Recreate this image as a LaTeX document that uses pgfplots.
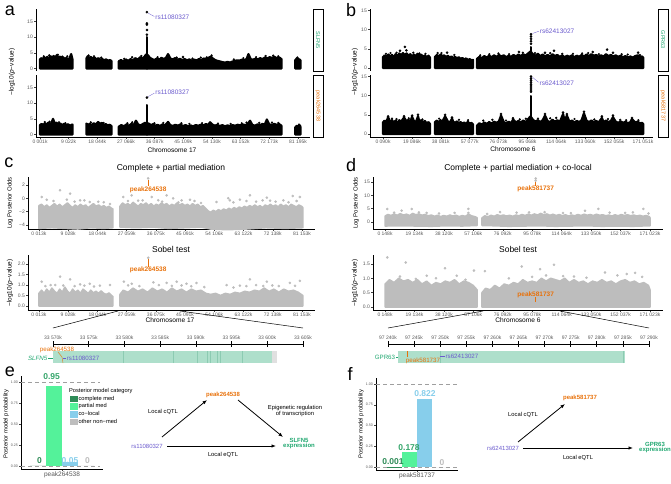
\documentclass[border=0pt]{standalone}
\usepackage{fontspec}
\setmainfont{Liberation Sans}
\usepackage{pgfplots}
\pgfplotsset{compat=1.18}
\usetikzlibrary{arrows.meta}

\definecolor{orng}{HTML}{E8710A}
\definecolor{purp}{HTML}{6A5ACD}
\definecolor{grn}{HTML}{20A770}
\definecolor{cmed}{HTML}{2E8B57}
\definecolor{pmed}{HTML}{54F29A}
\definecolor{pmedtxt}{HTML}{34A56A}
\definecolor{cloc}{HTML}{87CEEB}
\definecolor{oth}{HTML}{BEBEBE}
\definecolor{track}{HTML}{AEDFCB}
\definecolor{trackd}{HTML}{8CCBB2}
\definecolor{cloud}{HTML}{BDBDBD}

\newcommand{\fz}[1]{\fontsize{#1}{#1}\selectfont}

\pgfplotsset{
  gg/.style={scale only axis, clip=false, anchor=south west,
    axis line style={line width=0.5pt,-},
    tick align=outside, major tick length=1.8pt,
    every tick/.style={line width=0.4pt, black!75},
    tick label style={font=\fz{5}, text=black!65},
    xticklabel style={inner sep=1.2pt},
    yticklabel style={inner sep=1.2pt},
    /pgf/number format/assume math mode=true},
  blk/.style={fill=black, draw=black, line width=2.2pt, line join=round},
  gry/.style={fill=cloud, draw=cloud, line width=1.6pt, line join=round},
  dots/.style={only marks, mark=*, mark size=1.1pt},
  sqleg/.style={legend image code/.code={\fill[##1] (0pt,-3.3pt) rectangle (7.5pt,3.3pt);}},
}

\begin{document}
\begin{tikzpicture}
\path[use as bounding box] (0pt,0pt) rectangle (671pt,483pt);

% ---------------- panel a ----------------
\node[font=\fz{18}] at (10pt,472pt) {a};
\begin{axis}[gg, at={(36pt,412pt)}, width=274pt, height=62pt,
  xmin=-1.26, xmax=84.97, ymin=-0.8, ymax=19,
  axis y line*=left, axis x line=none, ytick={0,5,10,15}, xtick=\empty]
\addplot[blk] coordinates {(0,2.9)(0.4,3.3)(0.9,3.0)(1.3,3.6)(1.8,3.2)(2.3,3.7)(2.8,3.1)(3.3,3.9)(3.8,3.4)(4.3,4.0)(4.8,3.3)(5.3,4.3)(5.8,3.5)(6.3,3.8)(6.8,3.2)(7.3,3.6)(7.8,3.0)(8.3,3.4)(8.8,2.8)(9.3,3.3)(9.8,4.6)(10.2,3.0)} \closedcycle;
\addplot[blk] coordinates {(14.6,3.2)(15.0,3.9)(15.5,3.4)(16.0,3.7)(16.6,3.1)(17.2,3.5)(17.8,2.9)(18.4,3.3)(19.0,2.8)(19.6,3.0)(20.2,2.6)(20.8,2.9)(21.4,2.5)(22.0,2.7)(22.5,2.4)} \closedcycle;
\addplot[blk] coordinates {(24.8,2.3)(25.5,2.7)(26.2,2.2)(27.0,2.9)(27.8,2.4)(28.5,3.0)(29.2,2.6)(30.0,3.3)(30.8,2.8)(31.5,3.6)(32.2,3.1)(33.0,3.9)(33.4,4.5)(34.0,4.2)(34.6,3.4)(35.3,3.0)(36.0,2.7)(36.8,3.2)(37.5,2.8)(38.2,3.4)(39.0,3.0)(39.7,3.5)(40.3,4.6)(41.0,3.2)(41.8,2.9)(42.5,3.3)(43.3,2.8)(44.0,3.1)(44.8,2.7)(45.5,3.0)(46.3,2.6)(47.0,2.9)(47.8,2.5)(48.5,2.8)(49.3,2.6)(50.0,3.0)(50.8,2.7)(51.5,3.2)(52.3,2.9)(53.0,3.4)(53.8,3.8)(54.5,3.1)(55.3,2.6)(56.0,2.4)(56.8,2.2)(57.5,2.0)(58.3,1.9)(59.0,2.1)(59.8,1.9)(60.5,2.2)(61.3,2.4)(62.0,2.6)(62.8,2.5)(63.5,2.8)(64.3,2.7)(65.0,3.0)(65.6,4.6)(66.3,3.0)(67.0,2.8)(67.8,3.1)(68.5,2.9)(69.3,3.3)(70.0,3.0)(70.8,3.5)(71.5,3.2)(72.3,3.6)(73.0,3.4)(73.8,3.7)(74.5,3.3)(75.3,3.5)(76.0,3.0)} \closedcycle;
\addplot[blk] coordinates {(80.3,2.6)(80.8,3.2)(81.3,3.0)(81.8,2.8)(82.0,2.5)} \closedcycle;
\addplot[blk] coordinates {(33.55,10.0)(33.75,10.0)} \closedcycle;
\addplot[dots, black] coordinates {(33.65,10.8)(33.65,12.3)(33.65,14.0)(33.65,14.4)(33.65,18.0)(45.0,3.7)(52.5,3.5)};
\addplot[dots, black, mark size=0.9pt] coordinates {(1.2,3.9)(2.9,4.2)(5.6,4.4)(7.0,3.8)(8.6,3.9)(15.3,4.2)(17.0,3.9)(19.3,3.5)(26.5,3.1)(29.0,3.6)(31.9,4.0)(37.0,3.6)(43.0,3.5)(48.0,3.2)(50.6,3.5)(54.0,4.2)(61.0,2.9)(64.0,3.3)(68.0,3.6)(71.0,4.0)(73.4,4.1)(75.0,3.9)(81.0,3.5)};
\draw[purp, line width=0.3pt] (axis cs:34.0,17.7) -- (axis cs:36.0,16.6);
\node[purp, anchor=west, font=\fz{6.5}, inner sep=0.5pt] at (axis cs:36.1,16.3) {rs11080327};
\end{axis}

\begin{axis}[gg, at={(36pt,346pt)}, width=274pt, height=62pt,
  xmin=-1.26, xmax=84.97, ymin=-0.8, ymax=19,
  axis y line*=left, axis x line*=bottom, ytick={0,5,10,15},
  xtick={0.001,9.023,18.044,27.066,36.087,45.109,54.130,63.152,72.173,81.195},
  xticklabels={0 001k,9 022k,18 044k,27 066k,36 087k,45 109k,54 130k,63 152k,72 173k,81 195k}]
\addplot[blk] coordinates {(0,3.0)(0.5,3.4)(1.0,2.9)(1.5,3.6)(2.0,3.2)(2.6,3.8)(3.2,3.3)(3.7,3.9)(4.1,5.0)(4.6,3.5)(5.2,3.8)(5.8,3.1)(6.4,3.5)(7.0,3.0)(7.6,3.4)(8.2,2.9)(8.8,3.3)(9.4,2.8)(10.2,3.2)} \closedcycle;
\addplot[blk] coordinates {(14.6,3.5)(15.1,3.1)(15.7,3.4)(16.3,3.0)(16.9,3.6)(17.5,3.2)(18.3,4.0)(18.9,3.4)(19.5,3.7)(20.1,3.1)(20.7,3.3)(21.3,2.9)(21.9,3.1)(22.5,2.7)} \closedcycle;
\addplot[blk] coordinates {(24.8,2.5)(25.6,3.0)(26.4,2.6)(27.2,3.2)(28.0,2.8)(28.8,3.4)(29.5,3.0)(30.2,4.4)(30.9,3.2)(31.6,2.9)(32.3,3.3)(33.0,3.7)(34.2,3.5)(34.9,3.0)(35.6,3.3)(36.3,2.8)(37.0,3.1)(37.8,2.7)(38.5,3.2)(39.3,2.9)(40.3,4.0)(41.0,3.0)(41.8,2.7)(42.6,3.1)(43.4,2.8)(44.2,3.2)(45.0,2.7)(45.8,3.0)(46.6,2.6)(47.4,2.9)(48.2,2.6)(49.0,3.0)(49.8,2.8)(50.6,3.1)(51.4,2.9)(52.2,3.3)(53.0,3.1)(53.5,3.9)(54.2,3.2)(55.0,2.8)(55.8,3.1)(56.6,2.7)(57.4,3.0)(58.2,2.6)(59.0,2.9)(59.8,2.7)(60.6,3.0)(61.4,2.8)(62.2,3.1)(63.0,2.9)(63.8,3.2)(64.6,3.0)(65.3,3.3)(66.1,4.4)(66.8,3.1)(67.6,2.8)(68.4,3.2)(69.2,2.9)(70.0,3.4)(70.7,3.1)(71.4,4.8)(72.1,3.3)(72.9,3.0)(73.7,3.4)(74.5,3.1)(75.3,3.3)(76.0,2.8)} \closedcycle;
\addplot[blk] coordinates {(80.3,2.2)(80.8,2.8)(81.3,2.5)(81.8,2.9)(82.0,2.3)} \closedcycle;
\addplot[blk] coordinates {(33.55,9.5)(33.75,9.5)} \closedcycle;
\addplot[dots, black] coordinates {(33.65,11.8)};
\addplot[dots, black, mark size=0.9pt] coordinates {(1.5,4.0)(3.0,4.1)(6.0,3.9)(8.0,3.6)(16.0,3.9)(20.0,3.7)(27.5,3.6)(29.0,3.9)(36.0,3.6)(38.8,3.7)(44.5,3.6)(47.0,3.4)(51.0,3.6)(56.0,3.5)(60.0,3.4)(63.5,3.6)(65.0,3.8)(69.0,3.7)(73.0,3.8)(75.0,3.7)(81.5,3.2)};
\draw[purp, line width=0.3pt] (axis cs:34.0,12.1) -- (axis cs:36.0,13.2);
\node[purp, anchor=west, font=\fz{6.5}, inner sep=0.5pt] at (axis cs:36.1,13.4) {rs11080327};
\end{axis}
\draw[line width=0.6pt, fill=white] (313pt,412pt) rectangle (323pt,474pt);
\node[rotate=-90, text=grn, font=\fz{5.5}] at (318pt,443pt) {SLFN5};
\draw[line width=0.6pt, fill=white] (313pt,346pt) rectangle (323pt,408pt);
\node[rotate=-90, text=orng, font=\fz{5.5}] at (318pt,377pt) {peak264538};
\node[rotate=90, font=\fz{6.5}] at (12pt,411pt) {−log10(\textit{p}−value)};
\node[font=\fz{6.6}] at (172pt,333pt) {Chromosome 17};

% ---------------- panel b ----------------
\node[font=\fz{18}] at (351pt,473pt) {b};
\begin{axis}[gg, at={(370pt,412pt)}, width=283pt, height=62pt,
  xmin=-8.46, xmax=177.62, ymin=-0.79, ymax=15.4,
  axis y line*=left, axis x line=none, ytick={0,5,10,15}, xtick=\empty]
\addplot[blk] coordinates {(0,2.8)(1.2,3.3)(2.4,2.9)(3.6,3.5)(4.8,3.0)(6.0,3.4)(7.2,2.8)(8.4,3.6)(9.6,3.1)(10.8,3.8)(12.0,3.3)(13.2,3.9)(14.4,3.4)(15.6,3.8)(16.8,3.2)(18.0,3.6)(19.2,3.0)(20.4,3.5)(21.6,3.1)(22.8,3.7)(24.0,3.2)(25.2,3.5)(26.4,2.9)(27.6,3.3)(28.8,2.8)(30.0,3.2)(31.0,2.7)} \closedcycle;
\addplot[blk] coordinates {(34.3,2.9)(35.5,3.4)(36.7,3.0)(37.9,3.5)(39.1,3.1)(40.3,3.3)(41.5,2.8)(42.7,3.2)(43.9,2.7)(45.1,3.0)(46.3,2.6)(47.5,2.9)(48.7,2.5)(49.9,2.8)(51.1,2.4)(52.3,2.6)(53.5,2.2)(54.7,2.5)(55.9,2.1)(57.1,2.3)(58.3,2.0)(59.3,2.1)} \closedcycle;
\addplot[blk] coordinates {(61.9,2.4)(63.5,2.9)(65.1,2.6)(66.7,3.1)(68.3,2.7)(69.9,3.2)(71.5,2.8)(73.1,3.3)(74.7,2.9)(76.3,3.4)(77.9,3.0)(79.5,3.3)(81.1,2.8)(82.7,3.2)(84.3,2.9)(85.9,3.4)(87.5,3.0)(89.1,3.5)(90.7,3.1)(92.3,3.6)(93.9,3.2)(95.5,3.8)(97.1,4.3)(98.7,3.6)(100.3,3.2)(101.9,3.7)(103.5,3.1)(105.1,3.5)(106.7,3.0)(108.3,3.4)(109.9,3.0)(111.5,3.6)(113.1,3.1)(114.7,3.4)(116.3,2.9)(117.9,3.3)(119.5,2.8)(121.1,3.2)(122.7,2.9)(124.3,3.3)(125.9,2.8)(127.5,3.2)(129.1,2.9)(130.7,3.4)(132.3,3.0)(133.9,3.5)(135.5,3.1)(137.1,3.6)(138.7,3.2)(140.3,3.4)(141.9,2.9)(143.5,3.3)(145.1,3.0)(146.7,3.6)(148.3,3.1)(149.9,3.4)(151.5,3.0)(153.1,3.3)(154.7,2.9)(156.3,3.2)(157.9,2.8)(159.5,3.1)(161.1,2.7)(162.7,3.0)(164.3,2.7)(165.9,3.1)(167.5,3.3)(169.1,2.9)(170.5,3.0)(171.3,2.6)} \closedcycle;
\addplot[blk] coordinates {(97.2,5.5)(97.6,5.5)} \closedcycle;
\addplot[dots, black] coordinates {(97.4,6.3)(97.4,7.0)(97.4,7.6)(97.4,8.2)(97.4,8.8)(11.3,4.5)(14.5,5.5)(15.5,4.6)(42.2,4.0)(89.5,4.2)(106.6,4.0)(112.5,4.5)(138,4.2)(147.4,4.8)(151.3,4.0)(167.8,4.0)};
\addplot[dots, black, mark size=0.9pt] coordinates {(2.0,3.7)(5.0,3.9)(9.0,4.0)(20.0,4.0)(24.0,3.8)(28.0,3.7)(36.0,3.9)(38.5,3.9)(47.0,3.4)(64.0,3.3)(70.0,3.6)(76.0,3.8)(83.0,3.6)(92.0,4.0)(100.0,3.9)(110.0,3.9)(118.0,3.7)(125.0,3.7)(131.0,3.8)(135.0,3.9)(142.0,3.6)(157.0,3.6)(161.0,3.5)(169.0,3.4)};
\draw[purp, line width=0.3pt] (axis cs:98.4,9.0) -- (axis cs:102.6,9.6);
\node[purp, anchor=west, font=\fz{6.5}, inner sep=0.5pt] at (axis cs:102.8,9.7) {rs62413027};
\end{axis}

\begin{axis}[gg, at={(370pt,346pt)}, width=283pt, height=62pt,
  xmin=-8.46, xmax=177.62, ymin=-0.79, ymax=15.4,
  axis y line*=left, axis x line*=bottom, ytick={0,5,10,15},
  xtick={0.090,19.086,38.081,57.077,76.073,95.068,114.064,133.060,152.055,171.051},
  xticklabels={0 090k,19 086k,38 081k,57 077k,76 073k,95 068k,114 064k,133 060k,152 055k,171 051k}]
\addplot[blk] coordinates {(0,3.0)(1.2,3.5)(2.4,3.1)(3.4,4.4)(4.8,3.2)(6.0,3.6)(7.2,3.0)(8.4,3.5)(9.6,2.9)(10.8,3.6)(12.0,3.2)(13.9,4.3)(15.6,3.3)(16.8,3.7)(18.0,3.1)(19.2,4.5)(20.4,3.4)(21.6,3.0)(23.1,4.6)(24.0,3.3)(25.2,3.6)(26.4,3.0)(27.6,3.4)(28.8,2.8)(30.0,3.1)(31.0,2.6)} \closedcycle;
\addplot[blk] coordinates {(34.3,3.1)(35.5,3.5)(36.7,3.0)(37.9,3.6)(39.1,3.2)(40.9,4.6)(42.7,3.3)(43.9,2.9)(45.5,4.0)(46.3,3.2)(47.5,2.9)(48.7,3.3)(49.9,2.8)(51.1,3.1)(52.3,2.7)(53.5,3.0)(54.7,2.6)(55.9,3.2)(57.1,2.7)(58.3,2.9)(59.3,2.5)} \closedcycle;
\addplot[blk] coordinates {(61.9,2.2)(63.5,2.8)(65.1,2.4)(66.7,3.0)(68.3,2.6)(69.9,3.1)(71.5,2.7)(73.1,3.2)(74.7,2.9)(76.3,3.3)(77.7,4.8)(79.5,3.1)(81.1,2.7)(82.7,3.2)(84.3,2.8)(85.6,3.8)(87.5,3.0)(89.1,3.4)(90.7,3.0)(92.3,3.5)(93.9,3.1)(95.5,3.9)(97.1,4.6)(98.7,3.7)(100.3,3.2)(101.9,3.6)(103.5,3.1)(105.1,3.6)(106.6,4.8)(108.3,3.4)(109.9,3.1)(111.5,3.7)(113.1,3.2)(114.7,3.6)(116.3,3.1)(118.5,5.2)(119.5,3.4)(121.0,4.8)(122.7,3.2)(124.3,3.5)(125.9,3.0)(127.5,3.4)(129.1,3.1)(130.7,3.6)(132.2,5.4)(133.9,3.5)(135.5,3.1)(137.1,3.5)(138.7,3.1)(140.3,3.4)(141.9,3.0)(144.0,4.2)(145.1,3.1)(146.7,3.5)(148.3,3.1)(149.9,3.4)(151.3,4.4)(153.1,3.2)(154.7,2.9)(156.3,3.3)(157.9,2.9)(159.5,3.2)(161.1,2.8)(162.7,3.1)(163.8,3.9)(165.9,3.0)(167.5,3.2)(169.1,2.8)(170.5,2.9)(171.3,2.5)} \closedcycle;
\addplot[blk] coordinates {(97.2,10.0)(97.6,10.0)} \closedcycle;
\addplot[dots, black] coordinates {(97.4,11.0)(97.4,11.5)(97.4,12.0)(97.4,12.5)(97.4,13.0)(97.4,13.5)(97.4,14.0)(97.4,14.5)(97.4,15.0)(3.4,4.6)(13.9,4.6)(19.2,4.8)(23.1,5.0)(40.9,5.0)(45.5,4.3)(77.7,5.2)(85.6,4.1)(106.6,5.2)(118.5,5.6)(121,5.2)(132.2,5.8)(144,4.6)(151.3,4.8)(163.8,4.2)};
\addplot[dots, black, mark size=0.9pt] coordinates {(6.0,4.0)(9.0,3.9)(17.0,4.1)(26.0,3.8)(37.0,4.0)(50.0,3.7)(56.0,3.6)(66.0,3.5)(72.0,3.7)(81.0,3.5)(90.0,3.8)(94.0,4.0)(102.0,4.0)(110.0,4.1)(114.0,4.2)(126.0,3.9)(139.0,3.8)(148.0,3.9)(156.0,3.7)(160.0,3.6)(168.0,3.6)};
\draw[purp, line width=0.3pt] (axis cs:98.4,14.8) -- (axis cs:102.4,13.5);
\node[purp, anchor=west, font=\fz{6.5}, inner sep=0.5pt] at (axis cs:102.6,13.2) {rs62413027};
\end{axis}
\draw[line width=0.6pt, fill=white] (658pt,412pt) rectangle (668pt,474pt);
\node[rotate=-90, text=grn, font=\fz{5.5}] at (663pt,443pt) {GPR63};
\draw[line width=0.6pt, fill=white] (658pt,346pt) rectangle (668pt,408pt);
\node[rotate=-90, text=orng, font=\fz{5.5}] at (663pt,377pt) {peak581737};
\node[rotate=90, font=\fz{6.5}] at (355pt,411pt) {−log10(\textit{p}−value)};
\node[font=\fz{6.6}] at (513pt,334pt) {Chromosome 6};

% ---------------- panel c ----------------
\node[font=\fz{18}] at (9pt,320pt) {c};
\node[font=\fz{8.5}] at (171pt,315pt) {Complete + partial mediation};
\begin{axis}[gg, at={(28pt,254pt)}, width=287pt, height=52pt,
  xmin=-3.38, xmax=85.17, ymin=-4.6, ymax=3.2,
  axis y line*=left, axis x line*=bottom,
  ytick={-4,-2,0,2}, yticklabels={−4,−2,0,2},
  xtick={0.013,9.028,18.044,27.059,36.075,45.091,54.106,63.122,72.138,81.153},
  xticklabels={0 013k,9 028k,18 044k,27 059k,36 075k,45 091k,54 106k,63 122k,72 138k,81 153k}]
\addplot[gry] coordinates {(0.0,-1.1)(0.8,-0.9)(1.6,-1.3)(2.4,-1.0)(3.2,-1.4)(4.0,-1.1)(4.8,-0.8)(5.6,-1.2)(6.4,-0.9)(7.2,-1.3)(8.0,-1.0)(8.8,-0.7)(9.6,-1.1)(10.4,-1.4)(11.2,-1.0)(12.0,-1.3)(12.8,-0.9)(13.6,-1.2)(14.4,-1.0)(15.2,-1.4)(16.0,-1.1)(16.8,-0.8)(17.6,-1.2)(18.4,-1.0)(19.2,-1.3)(20.0,-1.1)(20.8,-1.4)(21.6,-1.2)(22.4,-1.5)(22.8,-1.6)(22.8,-4.4)(20,-4.5)(16,-4.4)(12,-4.6)(8,-4.5)(4,-4.4)(0,-4.5)} -- cycle;
\addplot[gry] coordinates {(25.0,-1.2)(25.8,-0.7)(26.6,-1.0)(27.4,-0.8)(28.2,-1.1)(29.0,-0.6)(29.8,-0.9)(30.6,-1.2)(31.4,-0.8)(32.2,-1.0)(33.0,-0.7)(33.8,-1.1)(34.6,-0.8)(35.4,-1.2)(36.2,-0.9)(37.0,-1.1)(37.8,-0.7)(38.6,-1.0)(39.4,-0.8)(40.2,-1.2)(41.0,-0.9)(41.8,-1.1)(42.6,-0.7)(43.4,-1.0)(44.2,-0.8)(45.0,-1.1)(45.8,-0.9)(46.6,-1.2)(47.4,-0.8)(48.2,-1.1)(49.0,-0.9)(49.8,-1.3)(50.6,-1.1)(51.4,-1.5)(52.2,-1.9)(53.0,-2.1)(53.8,-1.8)(54.6,-2.0)(55.4,-1.7)(56.2,-1.9)(57.0,-1.6)(57.8,-1.8)(58.6,-1.5)(59.4,-1.7)(60.2,-1.4)(61.0,-1.6)(61.8,-1.3)(62.6,-1.5)(63.4,-1.2)(64.2,-1.4)(65.0,-1.1)(65.8,-1.3)(66.6,-1.0)(67.4,-1.3)(68.2,-1.1)(69.0,-1.4)(69.8,-1.0)(70.6,-1.2)(71.4,-0.9)(72.2,-1.2)(73.0,-1.0)(73.8,-1.3)(74.6,-0.9)(75.4,-1.2)(76.2,-1.0)(77.0,-1.3)(77.8,-0.9)(78.6,-1.1)(79.4,-1.3)(80.2,-1.0)(81.0,-1.2)(81.4,-1.4)(81.4,-4.4)(76,-4.5)(70,-4.4)(64,-4.6)(58,-4.7)(53,-4.6)(50,-4.3)(45,-4.4)(40,-4.5)(35,-4.3)(30,-4.4)(25,-4.3)} -- cycle;
\addplot[dots, cloud] coordinates {(0.85,0.2)(2.4,-0.2)(6.5,1.2)(8.6,-0.2)(9.6,0.7)(12.7,-0.3)(15.7,-0.55)(18.3,-0.5)(21.9,-0.85)(26.0,0.2)(28.6,0.45)(30.6,-0.35)(33.7,3.0)(34.8,0.2)(36.8,-0.3)(39.4,0.45)(41.4,0.0)(44.0,-0.3)(46.6,-0.2)(54.8,-0.55)(58.4,0.0)(58.9,-0.3)(62.0,-0.2)(65.1,0.45)(70.3,0.1)(71.3,-0.35)(75.4,-0.3)(78.3,0.35)(80.5,0.2)(4.5,-0.4)(11,-0.5)(14,-0.3)(20,-0.6)(27.5,-0.4)(32,-0.3)(38,-0.5)(43,-0.6)(48,-0.4)(50,-0.7)(60,-0.6)(64,-0.4)(67,-0.5)(69,-0.3)(73,-0.5)(77,-0.6)(79.5,-0.4)};
\draw[orng, line width=0.5pt] (axis cs:33.7,1.85) -- (axis cs:33.7,2.75);
\node[orng, font=\bfseries\fz{6.5}, inner sep=0.5pt] at (axis cs:33.7,1.35) {peak264538};
\end{axis}
\node[font=\fz{8.5}] at (171pt,234pt) {Sobel test};
\begin{axis}[gg, at={(28pt,173pt)}, width=287pt, height=55pt,
  xmin=-3.38, xmax=85.17, ymin=-0.19, ymax=2.43,
  axis y line*=left, axis x line*=bottom,
  ytick={0,0.5,1,1.5,2}, yticklabels={0.0,0.5,1.0,1.5,2.0},
  xtick={0.013,9.028,18.044,27.059,36.075,45.091,54.106,63.122,72.138,81.153},
  xticklabels={0 013k,9 028k,18 044k,27 059k,36 075k,45 091k,54 106k,63 122k,72 138k,81 153k}]
\addplot[gry] coordinates {(0,0.6)(0.8,0.75)(1.6,0.6)(2.4,0.8)(3.2,0.65)(4.0,0.85)(4.8,0.7)(5.6,0.6)(6.4,0.8)(7.2,0.65)(8.0,0.9)(8.8,0.7)(9.6,0.6)(10.4,0.8)(11.2,0.65)(12.0,0.75)(12.8,0.6)(13.6,0.8)(14.4,0.7)(15.2,0.6)(16.0,0.75)(16.8,0.62)(17.6,0.7)(18.4,0.6)(19.2,0.72)(20.0,0.6)(20.8,0.55)(21.6,0.62)(22.4,0.5)(22.8,0.45)} \closedcycle;
\addplot[gry] coordinates {(25,0.55)(26,0.75)(27.5,0.65)(29,0.85)(30.5,0.7)(32,0.8)(33.5,0.65)(35,0.85)(36.5,0.7)(38,0.8)(39.5,0.65)(41,0.85)(42.5,0.7)(44,0.8)(45.5,0.65)(47,0.8)(48.5,0.7)(50,0.75)(51.5,0.6)(53,0.55)(54.5,0.6)(56,0.5)(57.5,0.6)(59,0.55)(60.5,0.65)(62,0.6)(63.5,0.7)(65,0.65)(66.5,0.75)(68,0.7)(69.5,0.85)(71,0.7)(72.5,0.8)(74,0.65)(75.5,0.8)(77,0.7)(78.5,0.75)(80,0.65)(81.4,0.5)} \closedcycle;
\addplot[dots, cloud] coordinates {(0.85,1.16)(3.6,1.0)(6.5,1.4)(9.6,1.27)(12.7,1.03)(15.7,1.06)(18.8,0.97)(21.9,1.0)(26.2,1.16)(28.6,1.06)(33.7,2.3)(35.3,1.13)(39.4,1.1)(42.5,1.16)(45.5,1.06)(48.6,1.1)(57.9,1.0)(62,0.97)(65.1,1.27)(69.2,0.95)(70.3,1.16)(77.4,1.1)(80.5,1.2)(2,0.95)(5,1.0)(7.5,0.98)(11,0.95)(14,0.97)(17,0.93)(27.5,0.98)(31,0.95)(37,1.0)(41,0.96)(44,0.98)(47,0.94)(51,0.9)(60,0.88)(64,0.95)(67,1.0)(72,0.98)(74,0.95)(79,0.96)};
\draw[orng, line width=0.5pt] (axis cs:33.7,1.88) -- (axis cs:33.7,2.22);
\node[orng, font=\bfseries\fz{6.5}, inner sep=0.5pt] at (axis cs:33.7,1.71) {peak264538};
\end{axis}
\node[font=\fz{6.6}] at (170pt,163pt) {Chromosome 17};
\node[rotate=90, font=\fz{6}] at (10pt,280pt) {Log Posterior Odds};
\node[rotate=90, font=\fz{6.5}] at (10pt,200pt) {−log10(\textit{p}−value)};
\draw[line width=0.5pt] (118pt,172pt) -- (53pt,155pt);
\draw[line width=0.5pt] (180pt,172pt) -- (303pt,155pt);

% zoom c
\begin{axis}[gg, at={(53pt,117pt)}, width=250pt, height=22pt,
  xmin=0, xmax=35, ymin=-3, ymax=19,
  axis x line*=top, axis y line=none, axis line style={line width=0.9pt},
  tick align=center, major tick length=6pt, every tick/.style={black, line width=0.7pt},
  xtick={0,5,10,15,20,25,30,35},
  xticklabels={33 570k,33 575k,33 580k,33 585k,33 590k,33 595k,33 600k,33 605k}]
\addplot[fill=track, draw=none] coordinates {(0,12)(30.66,12)} \closedcycle;
\addplot[fill=black!12, draw=none] coordinates {(30.66,12)(31.36,12)} \closedcycle;
\addplot[ycomb, draw=trackd, line width=0.5pt] coordinates {(9.8,12)(16.8,12)(20.2,12)(21.6,12)(22.0,12)(23.0,12)(23.4,12)(26.5,12)};
\draw[grn, line width=0.4pt] (axis cs:-0.7,5) -- (axis cs:0,5);
\node[grn, anchor=east, font=\itshape\fz{6.2}, inner sep=0.5pt] at (axis cs:-0.7,5) {SLFN5};
\draw[orng, line width=0.4pt] (axis cs:0.7,11) -- (axis cs:1.26,6) -- (axis cs:1.4,0);
\node[orng, font=\fz{6.2}, inner sep=0.5pt] at (axis cs:0.56,13.5) {peak264538};
\draw[purp, line width=0.4pt] (axis cs:1.4,5) -- (axis cs:1.85,5);
\node[purp, anchor=west, font=\fz{6.2}, inner sep=0.5pt] at (axis cs:1.85,5) {rs11080327};
\end{axis}

% ---------------- panel d ----------------
\node[font=\fz{18}] at (351pt,318pt) {d};
\node[font=\fz{8.5}] at (518pt,315pt) {Complete + partial mediation + co-local};
\begin{axis}[gg, at={(373pt,254pt)}, width=290pt, height=52pt,
  xmin=-7.59, xmax=179.4, ymin=-2.63, ymax=16.87,
  axis y line*=left, axis x line*=bottom,
  ytick={0,5,10,15},
  xtick={0.148,19.134,38.120,57.106,76.092,95.078,114.064,133.050,152.037,171.023},
  xticklabels={0 148k,19 134k,38 120k,57 106k,76 092k,95 078k,114 064k,133 050k,152 037k,171 023k}]
\addplot[gry] coordinates {(0.2,2.2)(2,2.8)(4,2.4)(6,3.0)(8,2.5)(10,3.1)(12,2.6)(14,2.9)(16,2.4)(18,3.2)(20,2.7)(22,3.0)(24,2.5)(26,2.8)(28,2.3)(30,2.6)(32,2.1)(34,2.5)(36,2.0)(38,2.4)(40,2.1)(42,2.6)(44,2.2)(46,2.5)(48,2.0)(50,2.4)(52,2.1)(54,2.9)(56,2.3)(58,2.0)(59.5,1.6)(59.5,-1.3)(50,-1.5)(40,-1.4)(30,-1.6)(20,-1.5)(10,-1.4)(0.2,-1.5)} -- cycle;
\addplot[gry] coordinates {(62.7,1.5)(64.5,2.3)(66.5,1.9)(68.5,2.5)(70.5,2.1)(72.5,2.7)(74.5,2.3)(76.5,2.6)(78.5,2.2)(80.5,2.5)(82.5,2.1)(84.5,2.6)(86.5,2.3)(88.5,2.8)(90.5,2.4)(92.5,2.9)(94.5,2.5)(96.5,3.0)(98.5,2.6)(100.5,3.2)(102.5,2.7)(104.5,3.0)(106.5,2.5)(108.5,2.9)(110.5,2.4)(112.5,2.8)(114.5,2.3)(116.5,2.7)(118.5,2.2)(120.5,2.6)(122.5,2.3)(124.5,2.8)(126.5,2.4)(128.5,2.9)(130.5,2.5)(132.5,2.8)(134.5,2.4)(136.5,2.9)(138.5,2.5)(140.5,2.7)(142.5,2.3)(144.5,2.6)(146.5,2.2)(148.5,2.7)(150.5,2.3)(152.5,2.8)(154.5,2.4)(156.5,2.7)(158.5,2.3)(160.5,2.6)(162.5,2.2)(164.5,2.5)(166.5,2.1)(168.5,2.4)(170.5,2.0)(171.0,1.6)(171,-1.4)(160,-1.6)(150,-1.5)(140,-1.6)(130,-1.4)(120,-1.5)(110,-1.6)(100,-1.4)(90,-1.5)(80,-1.6)(70,-1.4)(62.7,-1.3)} -- cycle;
\addplot[dots, cloud] coordinates {(1.6,4.9)(10.9,4.25)(17.4,4.9)(27,3.4)(53.9,4.9)(53.9,3.4)(74.3,3.7)(97.3,16.3)(97.3,15.5)(129.1,4.25)(137.7,4.9)(166.7,4.9)(114.9,3.4)(6,3.5)(22,3.6)(35,3.2)(45,3.4)(66,3.0)(85,3.5)(93,3.6)(103,3.7)(120,3.3)(145,3.5)(155,3.4)(160,3.6)(170,3.2)};
\draw[orng, line width=0.5pt] (axis cs:97.3,13.6) -- (axis cs:97.3,15.0);
\node[orng, font=\bfseries\fz{6.5}, inner sep=0.5pt] at (axis cs:97.3,12.4) {peak581737};
\end{axis}
\node[font=\fz{8.5}] at (518pt,234pt) {Sobel test};
\begin{axis}[gg, at={(373pt,173pt)}, width=290pt, height=55pt,
  xmin=-7.59, xmax=179.4, ymin=-0.105, ymax=1.813,
  axis y line*=left, axis x line*=bottom,
  ytick={0,0.5,1,1.5}, yticklabels={0.0,0.5,1.0,1.5},
  xtick={0.148,19.134,38.120,57.106,76.092,95.078,114.064,133.050,152.037,171.023},
  xticklabels={0 148k,19 134k,38 120k,57 106k,76 092k,95 078k,114 064k,133 050k,152 037k,171 023k}]
\addplot[gry] coordinates {(0.2,0.8)(3,0.95)(6,0.85)(9,1.0)(12,0.9)(15,0.95)(18,0.85)(21,0.95)(24,0.8)(27,0.9)(30,0.75)(33,0.85)(36,0.8)(39,0.9)(42,0.85)(45,0.95)(48,0.8)(51,0.9)(54,0.85)(57,0.75)(59.5,0.6)} \closedcycle;
\addplot[gry] coordinates {(62.7,0.5)(65,0.65)(68,0.6)(71,0.75)(74,0.65)(77,0.8)(80,0.75)(83,0.85)(86,0.8)(89,0.95)(92,0.85)(95,0.9)(98,0.85)(101,1.0)(104,0.9)(107,1.0)(110,0.95)(113,0.9)(116,1.0)(119,0.85)(122,0.95)(125,0.85)(128,0.9)(131,0.8)(134,0.9)(137,0.85)(140,0.95)(143,0.85)(146,0.9)(149,0.8)(152,0.9)(155,0.95)(158,0.85)(161,0.9)(164,0.8)(167,0.85)(170,0.75)(171,0.6)} \closedcycle;
\addplot[dots, cloud] coordinates {(1.6,1.73)(13.5,1.55)(38.8,1.35)(46.4,1.09)(57.5,1.27)(64.6,1.25)(88.3,1.41)(100.1,1.32)(109.1,1.47)(142,1.2)(161.4,1.19)(9.8,1.06)(27,1.09)(122,1.06)(80,1.0)(95,1.05)(104,1.1)(115,1.08)(130,1.02)(150,1.1)(156,1.15)(166,1.05)(20,0.98)(33,1.0)(52,0.95)};
\draw[orng, line width=0.5pt] (axis cs:97.3,0.34) -- (axis cs:97.3,0.18);
\node[orng, font=\bfseries\fz{6.5}, inner sep=0.5pt] at (axis cs:97.3,0.42) {peak581737};
\end{axis}
\node[font=\fz{6.6}] at (518pt,163pt) {Chromosome 6};
\node[rotate=90, font=\fz{6}] at (356pt,280pt) {Log Posterior Odds};
\node[rotate=90, font=\fz{6.5}] at (355pt,200pt) {−log10(\textit{p}−value)};
\draw[line width=0.5pt] (483pt,172pt) -- (388pt,155pt);
\draw[line width=0.5pt] (560pt,172pt) -- (649pt,155pt);

% zoom d
\begin{axis}[gg, at={(388pt,117pt)}, width=261pt, height=22pt,
  xmin=0, xmax=50, ymin=-3, ymax=19,
  axis x line*=top, axis y line=none, axis line style={line width=0.9pt},
  tick align=center, major tick length=6pt, every tick/.style={black, line width=0.7pt},
  xtick={0,5,10,15,20,25,30,35,40,45,50},
  xticklabels={97 240k,97 245k,97 250k,97 255k,97 260k,97 265k,97 270k,97 275k,97 280k,97 285k,97 290k}]
\addplot[fill=track, draw=none] coordinates {(1.92,12)(45.4,12)} \closedcycle;
\addplot[ycomb, draw=trackd, line width=0.8pt] coordinates {(45.1,12)(9.96,12)};
\draw[grn, line width=0.4pt] (axis cs:1.5,6) -- (axis cs:1.92,6);
\node[grn, anchor=east, font=\fz{6.2}, inner sep=0.5pt] at (axis cs:1.5,6) {GPR63};
\draw[orng, line width=0.4pt] (axis cs:3.64,12) -- (axis cs:3.64,6);
\node[orng, anchor=west, font=\fz{6.2}, inner sep=0.5pt] at (axis cs:3.3,2.5) {peak581737};
\draw[purp, line width=0.4pt] (axis cs:9.96,7) -- (axis cs:10.9,7);
\node[purp, anchor=west, font=\fz{6.2}, inner sep=0.5pt] at (axis cs:10.9,7) {rs62413027};
\end{axis}

% ---------------- panel e ----------------
\node[font=\fz{18}] at (10pt,111pt) {e};
\begin{axis}[gg, at={(21pt,14pt)}, width=82pt, height=93pt,
  xmin=-0.0625, xmax=5.0625, ymin=-0.036, ymax=1.07,
  axis y line*=left, axis x line*=bottom,
  ytick={0,0.25,0.5,0.75,1}, yticklabels={0.00,0.25,0.50,0.75,1.00},
  yticklabel style={font=\fz{3.6}},
  xtick={2.5}, xticklabels={peak264538}, xticklabel style={font=\fz{6.5}},
  legend cell align=left,
  legend style={at={(0.6,0.875)}, anchor=north west, draw=none, fill=none,
    font=\fz{5.7}, row sep=0.6pt, inner sep=0pt, nodes={inner sep=0.7pt}}]
\addlegendimage{empty legend}
\addlegendentry{\hspace{-9.5pt}Posterior model category}
\addplot[forget plot, sharp plot, gray!75, line width=0.6pt, dash pattern=on 4pt off 3pt] coordinates {(-0.0625,1)(4.875,1)};
\addplot[forget plot, sharp plot, gray!75, line width=0.6pt, dash pattern=on 4pt off 3pt] coordinates {(-0.0625,0)(4.875,0)};
\addplot[ybar, bar width=1, bar shift=0pt, fill=cmed, draw=none, sqleg] coordinates {(1,0)};
\addlegendentry{complete med}
\addplot[ybar, bar width=1, bar shift=0pt, fill=pmed, draw=none, sqleg] coordinates {(2,0.95)};
\addlegendentry{partial med}
\addplot[ybar, bar width=1, bar shift=0pt, fill=cloc, draw=none, sqleg] coordinates {(3,0.05)};
\addlegendentry{co−local}
\addplot[ybar, bar width=1, bar shift=0pt, fill=oth, draw=none, sqleg] coordinates {(4,0)};
\addlegendentry{other non−med}
\node[cmed, font=\bfseries\fz{8.5}] at (axis cs:1.1,0.07) {0};
\node[pmedtxt, font=\bfseries\fz{8.5}] at (axis cs:1.85,1.06) {0.95};
\node[cloc, font=\bfseries\fz{8.5}] at (axis cs:3.0,0.07) {0.05};
\node[oth, font=\bfseries\fz{8.5}] at (axis cs:4.1,0.07) {0};
\end{axis}
\node[rotate=90, font=\fz{5.8}] at (6pt,59pt) {Posterior model probability};
% diagram e
\node[orng, font=\bfseries\fz{6}] at (223pt,88pt) {peak264538};
\node[purp, font=\fz{6}] at (147pt,37pt) {rs11080327};
\node[grn, font=\bfseries\fz{6}, align=center, inner sep=0pt] at (299pt,39pt) {SLFN5\\[-1pt]expression};
\draw[-{Latex[length=4.5pt,width=3.5pt]}, line width=0.8pt] (162pt,46pt) -- (207pt,83pt);
\draw[-{Latex[length=4.5pt,width=3.5pt]}, line width=0.8pt] (238pt,83pt) -- (283pt,46pt);
\draw[-{Latex[length=4.5pt,width=3.5pt]}, line width=0.8pt] (167pt,37pt) -- (276pt,37pt);
\node[font=\fz{5.8}] at (163pt,71pt) {Local cQTL};
\node[font=\fz{5.8}, align=center, inner sep=0pt] at (295pt,72pt) {Epigenetic regulation\\of transcription};
\node[font=\fz{5.8}] at (223pt,28pt) {Local eQTL};

% ---------------- panel f ----------------
\node[font=\fz{18}] at (350pt,109pt) {f};
\begin{axis}[gg, at={(376pt,13pt)}, width=82pt, height=92pt,
  xmin=-0.233, xmax=5.233, ymin=-0.036, ymax=1.072,
  axis y line*=left, axis x line*=bottom,
  ytick={0,0.25,0.5,0.75,1}, yticklabels={0.00,0.25,0.50,0.75,1.00},
  yticklabel style={font=\fz{3.6}},
  xtick={2.5}, xticklabels={peak581737}, xticklabel style={font=\fz{6.5}}]
\addplot[sharp plot, gray!75, line width=0.6pt, dash pattern=on 4pt off 3pt] coordinates {(-0.233,1)(5.233,1)};
\addplot[sharp plot, gray!75, line width=0.6pt, dash pattern=on 4pt off 3pt] coordinates {(-0.233,0)(5.233,0)};
\addplot[ybar, bar width=1, bar shift=0pt, fill=cmed, draw=none] coordinates {(1,0.001)};
\addplot[ybar, bar width=1, bar shift=0pt, fill=pmed, draw=none] coordinates {(2,0.178)};
\addplot[ybar, bar width=1, bar shift=0pt, fill=cloc, draw=none] coordinates {(3,0.822)};
\addplot[ybar, bar width=1, bar shift=0pt, fill=oth, draw=none] coordinates {(4,0)};
\node[cmed, font=\bfseries\fz{8.5}] at (axis cs:0.9,0.06) {0.001};
\node[pmedtxt, font=\bfseries\fz{8.5}] at (axis cs:1.97,0.23) {0.178};
\node[cloc, font=\bfseries\fz{8.5}] at (axis cs:3.03,0.88) {0.822};
\node[oth, font=\bfseries\fz{8.5}] at (axis cs:4.17,0.05) {0};
\end{axis}
\node[rotate=90, font=\fz{5.8}] at (361pt,59pt) {Posterior model probability};
% diagram f
\node[orng, font=\bfseries\fz{6}] at (580pt,85pt) {peak581737};
\node[purp, font=\fz{6}] at (503pt,35pt) {rs62413027};
\node[grn, font=\bfseries\fz{6}, align=center, inner sep=0pt] at (655pt,35pt) {GPR63\\[-1pt]expression};
\draw[-{Latex[length=4.5pt,width=3.5pt]}, line width=0.8pt] (518pt,41pt) -- (565pt,79pt);
\draw[-{Latex[length=4.5pt,width=3.5pt]}, line width=0.8pt] (523pt,35pt) -- (633pt,35pt);
\node[font=\fz{5.8}] at (523pt,68pt) {Local cQTL};
\node[font=\fz{5.8}] at (578pt,25pt) {Local eQTL};
\end{tikzpicture}
\end{document}
